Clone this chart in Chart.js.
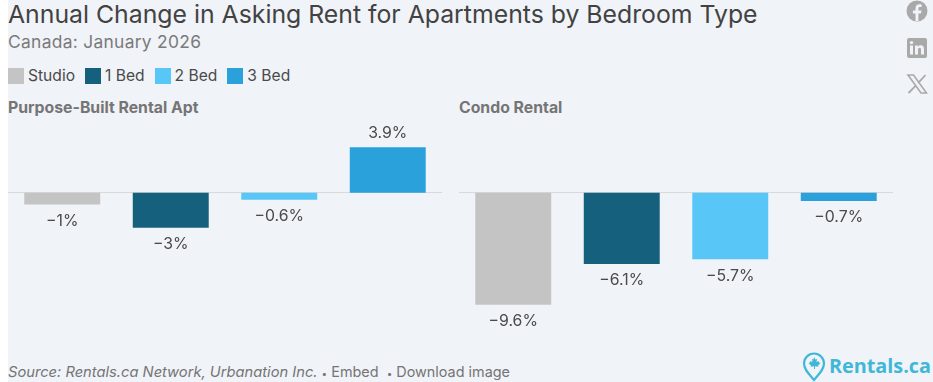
<!DOCTYPE html>
<html lang="en">
<head>
<meta charset="utf-8" />
<title>Annual Change in Asking Rent</title>
<style>
html,body{margin:0;padding:0;background:#fff;overflow:hidden;}
body{font-family:Inter,Arial,sans-serif;width:933px;height:382px;position:relative;}
#bg{position:absolute;left:8px;top:0;width:925px;height:382px;background:#f0f3f8;}
.t{position:absolute;white-space:nowrap;line-height:1;}
#title{left:8px;top:1px;font-size:24.8px;color:#424242;line-height:26px;}
#sub{left:8px;top:33px;font-size:17.4px;color:#7a7a7a;letter-spacing:.3px;line-height:18px;}
#legend{position:absolute;left:8px;top:68px;display:flex;font-size:15.6px;color:#4a4a4a;line-height:16px;}
#legend span{display:flex;align-items:center;margin-right:10px;}
#legend i{width:16px;height:16px;display:inline-block;margin-right:4px;}
.panel{font-weight:700;font-size:15.8px;color:#757575;top:100px;line-height:16px;}
.wrap{position:absolute;top:121px;width:434px;height:220px;}
#foot{left:8px;top:364px;font-size:14.4px;color:#757575;line-height:16px;}
#foot em{font-style:italic;font-size:14.7px;}
#foot small{font-size:10px;}
#logo{position:absolute;left:802px;top:352px;}
#logotext{left:829px;top:354px;font-size:19.8px;font-weight:700;color:#3fb8d8;line-height:24px;font-family:"Open Sans",Inter,sans-serif;}
.ic{position:absolute;left:906px;}
</style>
</head>
<body>
<div id="bg"></div>
<div class="t" id="title">Annual Change in Asking Rent for Apartments by Bedroom Type</div>
<div class="t" id="sub">Canada: January 2026</div>
<div id="legend"></div>
<div class="t panel" style="left:8px">Purpose-Built Rental Apt</div>
<div class="t panel" style="left:459px">Condo Rental</div>
<div class="wrap" style="left:8px"><canvas id="purposeChart"></canvas></div>
<div class="wrap" style="left:459px"><canvas id="condoChart"></canvas></div>
<div class="t" id="foot"><em>Source: Rentals.ca Network, Urbanation Inc.</em> <small>•</small> Embed &nbsp;<small>•</small> Download image</div>

<svg class="ic" style="top:0" width="22" height="22" viewBox="0 0 22 22"><circle cx="11" cy="11" r="10.5" fill="#a9a9a9"/><path d="M12.4 21v-7.6h2.6l.5-3h-3.1V8.6c0-.9.4-1.5 1.6-1.5h1.6V4.5c-.5-.1-1.3-.2-2.2-.2-2.4 0-3.9 1.4-3.9 4v2.1H6.9v3h2.6V21z" fill="#f0f3f8"/></svg>
<svg class="ic" style="top:37px" width="22" height="22" viewBox="0 0 22 22"><rect x="1" y="1" width="20" height="20" rx="2" fill="#a9a9a9"/><rect x="4" y="8.5" width="3" height="9" fill="#f0f3f8"/><circle cx="5.5" cy="5.6" r="1.7" fill="#f0f3f8"/><path d="M9 8.5h2.8v1.3c.5-.9 1.5-1.5 2.9-1.5 2.4 0 3.3 1.500 3.300 3.900v5.300h-3v-4.800c0-1.200-.3-2-1.400-2s-1.600.9-1.600 2v4.800H9z" fill="#f0f3f8"/></svg>
<svg class="ic" style="top:73px" width="22" height="22" viewBox="0 0 22 22"><path d="M2 2h5.500l13 18H15z" fill="none" stroke="#a9a9a9" stroke-width="1.600"/><path d="M19.500 2 12.300 9.800M9.800 12.600 2.500 20" stroke="#a9a9a9" stroke-width="1.800" fill="none"/></svg>

<svg id="logo" width="24" height="30" viewBox="0 0 24 30"><path d="M12 28C7 22 2 17.500 2 11.500a10 10 0 0 1 20 0C22 17.500 17 22 12 28z" fill="none" stroke="#3fb8d8" stroke-width="2.200"/><path d="M12 5l1.500 2.500 1.500-.6-.5 3 2-.9.500 1.600 1.500.4-2.500 2.500.4 1.200-3.400-.4V17h-1v-2.700l-3.400.4.400-1.200L6.500 11l1.500-.4.500-1.600 2 .9-.5-3 1.500.6z" fill="#3fb8d8"/></svg>
<div class="t" id="logotext">Rentals.ca</div>

<script src="https://cdn.jsdelivr.net/npm/chart.js@4.4.1"></script>
<script>
const categories = ['Studio','1 Bed','2 Bed','3 Bed'];
const purposeValues = [-1,-3,-0.6,3.9];
const condoValues = [-9.6,-6.1,-5.7,-0.7];
const barColors = ['#c4c4c4','#15607c','#58c7f7','#2aa1da'];

/* legend */
const legend = document.getElementById('legend');
categories.forEach((c,i)=>{
    const item = document.createElement('span');
    const sw = document.createElement('i');
    sw.style.background = barColors[i];
    item.appendChild(sw);
    item.appendChild(document.createTextNode(c));
    legend.appendChild(item);
});

/* value labels under / over the bars */
const valueLabels = {
    id:'valueLabels',
    afterDatasetsDraw(chart){
        const {ctx} = chart;
        const data = chart.data.datasets[0].data;
        ctx.save();
        ctx.font = '15.8px Inter';
        ctx.fillStyle = '#4a4a4a';
        ctx.textAlign = 'center';
        ctx.textBaseline = 'middle';
        chart.getDatasetMeta(0).data.forEach((bar,i)=>{
            const v = data[i];
            const txt = (v<0?'\u2212':'')+Math.abs(v)+'%';
            ctx.fillText(txt, bar.x, v<0 ? bar.y+16.5 : bar.y-14.5);
        });
        ctx.restore();
    }
};

Chart.defaults.animation = false;

function makeBars(id, values){
    new Chart(document.getElementById(id),{
        type:'bar',
        data:{labels:categories,datasets:[{data:values,backgroundColor:barColors,barPercentage:0.7,categoryPercentage:1}]},
        options:{
            responsive:true,
            maintainAspectRatio:false,
            layout:{padding:0},
            plugins:{legend:{display:false},tooltip:{enabled:false}},
            scales:{
                x:{position:{y:0},grid:{display:false},ticks:{display:false},border:{color:'#d9d9d9',width:1}},
                y:{display:false,min:-12.7,max:6.15}
            }
        },
        plugins:[valueLabels]
    });
}

makeBars('purposeChart',purposeValues);
makeBars('condoChart',condoValues);
</script>
</body>
</html>
